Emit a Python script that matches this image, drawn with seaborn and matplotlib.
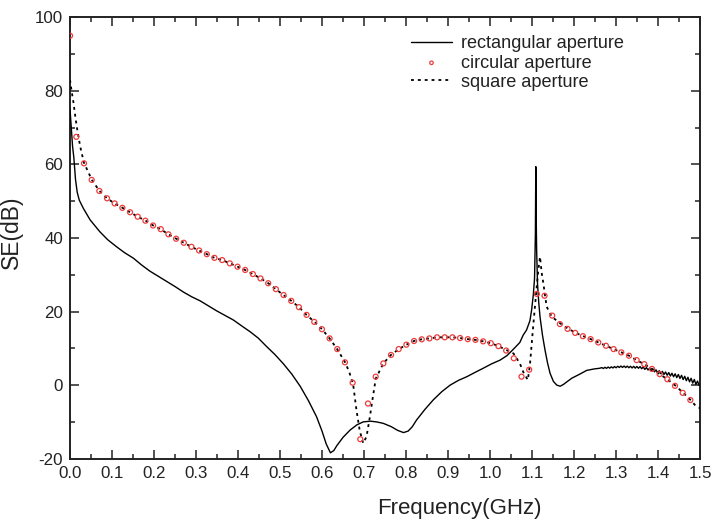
import numpy as np
import pandas as pd
import matplotlib
matplotlib.use("Agg")
import matplotlib.pyplot as plt
from matplotlib.ticker import MultipleLocator
import seaborn as sns

# Shielding effectiveness of an enclosure with different aperture shapes
rect_freq = [
    0.000, 0.003, 0.006, 0.009, 0.013, 0.017, 0.022, 0.032, 0.048, 0.071,
    0.090, 0.111, 0.130, 0.151, 0.170, 0.190, 0.210, 0.230, 0.250, 0.270,
    0.290, 0.310, 0.330, 0.349, 0.370, 0.389, 0.410, 0.429, 0.448, 0.468,
    0.488, 0.508, 0.528, 0.548, 0.568, 0.587, 0.600, 0.610, 0.620, 0.628,
    0.635, 0.650, 0.667, 0.683, 0.698, 0.715, 0.730, 0.746, 0.765, 0.780,
    0.794, 0.805, 0.815, 0.825, 0.845, 0.865, 0.885, 0.905, 0.925, 0.945,
    0.965, 0.984, 1.004, 1.024, 1.040, 1.056, 1.071, 1.079, 1.087, 1.095,
    1.099, 1.103, 1.106, 1.108, 1.109, 1.110, 1.111, 1.113, 1.116, 1.119,
    1.125, 1.131, 1.137, 1.143, 1.151, 1.159, 1.167, 1.175, 1.183, 1.195,
    1.214, 1.230, 1.248, 1.262,
    1.2660, 1.2698, 1.2736, 1.2774, 1.2812, 1.2850, 1.2888, 1.2926, 1.2964, 1.3002,
    1.3040, 1.3078, 1.3116, 1.3154, 1.3192, 1.3230, 1.3268, 1.3306, 1.3344, 1.3382,
    1.3420, 1.3458, 1.3496, 1.3534, 1.3572, 1.3610, 1.3648, 1.3686, 1.3724, 1.3762,
    1.3800, 1.3838, 1.3876, 1.3914, 1.3952, 1.3990, 1.4028, 1.4066, 1.4104, 1.4142,
    1.4180, 1.4218, 1.4256, 1.4294, 1.4332, 1.4370, 1.4408, 1.4446, 1.4484, 1.4522,
    1.4560, 1.4598, 1.4636, 1.4674, 1.4712, 1.4750, 1.4788, 1.4826, 1.4864, 1.4902,
    1.4940, 1.4978,
]
rect_se = [
    75.0, 70.0, 65.0, 62.0, 56.0, 52.5, 50.3, 48.0, 44.9, 41.7,
    39.5, 37.6, 36.0, 34.5, 32.7, 31.0, 29.6, 28.2, 26.8, 25.3,
    24.0, 22.9, 21.5, 20.2, 18.9, 17.7, 16.0, 14.5, 12.8, 10.5,
    8.3, 5.8, 3.0, -0.3, -4.3, -8.6, -12.5, -16.0, -18.4, -17.8,
    -16.5, -14.2, -12.2, -10.8, -10.0, -9.8, -10.0, -10.4, -11.3, -12.3,
    -12.9, -12.5, -11.3, -9.5, -6.6, -4.0, -1.8, 0.0, 1.3, 2.3,
    3.5, 4.6, 5.8, 6.8, 8.0, 9.8, 11.6, 13.6, 15.0, 17.5,
    20.4, 24.5, 29.0, 41.0, 59.4, 45.0, 36.7, 27.7, 22.5, 18.6,
    13.5, 9.5, 6.0, 3.2, 1.0, 0.0, -0.3, 0.2, 0.9, 1.9,
    3.0, 4.0, 4.4, 4.6,
    4.78, 4.51, 4.85, 4.56, 4.92, 4.61, 4.98, 4.66, 5.05, 4.72,
    5.13, 4.80, 5.19, 4.81, 5.19, 4.78, 5.17, 4.73, 5.13, 4.67,
    5.10, 4.62, 5.08, 4.58, 5.05, 4.46, 4.91, 4.28, 4.76, 4.11,
    4.62, 3.89, 4.39, 3.62, 4.16, 3.35, 3.93, 3.10, 3.75, 2.89,
    3.58, 2.68, 3.41, 2.46, 3.24, 2.26, 3.07, 2.04, 2.89, 1.81,
    2.66, 1.51, 2.40, 1.20, 2.13, 0.90, 1.86, 0.56, 1.54, 0.20,
    1.10, -0.07,
]

circ_freq = [0.0] + list(np.linspace(0.015, 1.477, 81))
circ_se = [
    95.0,
    67.5, 60.3, 55.8, 52.8, 50.8, 49.4, 48.2, 47.0, 45.8, 44.7,
    43.4, 42.4, 41.0, 39.8, 38.7, 37.6, 36.6, 35.6, 34.6, 34.0,
    33.1, 32.2, 31.3, 30.2, 29.0, 27.7, 26.1, 24.5, 22.9, 21.2,
    19.1, 17.2, 15.2, 12.7, 9.8, 6.2, 0.65, -14.7, -5.0, 2.3,
    5.9, 8.2, 9.8, 11.0, 12.0, 12.45, 12.7, 13.0, 13.0, 13.0,
    12.8, 12.5, 12.3, 11.9, 11.4, 10.6, 9.4, 7.3, 2.3, 4.2,
    24.8, 24.3, 18.9, 16.6, 15.3, 14.2, 13.3, 12.5, 11.6, 10.7,
    9.8, 8.9, 8.0, 6.8, 5.7, 4.4, 3.0, 1.6, -0.2, -2.1,
    -4.05,
]

sq_freq = [
    0.000, 0.004, 0.008, 0.012, 0.016, 0.024, 0.033, 0.052, 0.070, 0.088,
    0.106, 0.125, 0.143, 0.161, 0.180, 0.198, 0.216, 0.234, 0.253, 0.271,
    0.289, 0.307, 0.326, 0.344, 0.362, 0.381, 0.399, 0.417, 0.435, 0.454,
    0.472, 0.490, 0.508, 0.527, 0.545, 0.563, 0.582, 0.600, 0.618, 0.636,
    0.655, 0.665, 0.674, 0.682, 0.690, 0.698, 0.706, 0.714, 0.720, 0.728,
    0.746, 0.764, 0.783, 0.801, 0.819, 0.837, 0.856, 0.874, 0.892, 0.911,
    0.929, 0.947, 0.965, 0.984, 1.002, 1.020, 1.038, 1.056, 1.071, 1.079,
    1.090, 1.095, 1.103, 1.111, 1.115, 1.119, 1.123, 1.127, 1.131, 1.135,
    1.147, 1.167, 1.185, 1.204, 1.222, 1.240, 1.258, 1.276, 1.294, 1.313,
    1.331, 1.349, 1.367, 1.386, 1.404, 1.422, 1.441, 1.459, 1.477, 1.488,
    1.500,
]
sq_se = [
    83.0, 79.8, 77.0, 73.5, 70.3, 65.0, 60.5, 55.8, 52.8, 50.8,
    49.4, 48.2, 47.0, 45.8, 44.7, 43.4, 42.4, 41.0, 39.8, 38.7,
    37.6, 36.6, 35.6, 34.6, 34.0, 33.1, 32.2, 31.3, 30.2, 29.0,
    27.7, 26.1, 24.5, 22.9, 21.2, 19.1, 17.2, 15.2, 12.7, 9.8,
    6.2, 3.5, 0.3, -6.8, -12.5, -15.8, -14.0, -8.6, -4.0, 1.8,
    5.9, 8.2, 9.8, 11.0, 12.0, 12.45, 12.7, 13.0, 13.0, 13.0,
    12.8, 12.5, 12.3, 11.9, 11.4, 10.6, 9.6, 8.6, 5.9, 3.6,
    1.4, 5.5, 16.3, 26.5, 31.3, 34.9, 30.5, 27.7, 24.3, 21.3,
    18.6, 16.8, 15.4, 14.2, 13.3, 12.5, 11.6, 10.7, 9.8, 8.9,
    8.0, 6.8, 5.7, 4.4, 3.0, 1.6, -0.1, -2.0, -4.0, -5.4,
    -6.3,
]

x_ticks = [0.0, 0.1, 0.2, 0.3, 0.4, 0.5, 0.6, 0.7, 0.8, 0.9, 1.0, 1.1, 1.2, 1.3, 1.4, 1.5]
y_ticks = [-20, 0, 20, 40, 60, 80, 100]

rect_df = pd.DataFrame({"freq": rect_freq, "se": rect_se})
circ_df = pd.DataFrame({"freq": circ_freq, "se": circ_se})
sq_df = pd.DataFrame({"freq": sq_freq, "se": sq_se})

sns.set_style("ticks")
plt.rcParams["font.family"] = ["Liberation Sans", "DejaVu Sans"]

fig = plt.figure(figsize=(7.13, 5.21), dpi=100)
ax = fig.add_axes([0.0982, 0.1196, 0.8836, 0.8472])

sns.lineplot(data=rect_df, x="freq", y="se", ax=ax, color="black", lw=1.0,
             estimator=None, sort=False, label="rectangular aperture", zorder=3)
sns.scatterplot(data=circ_df, x="freq", y="se", ax=ax, marker="o", s=13,
                facecolors="none", edgecolors="#ee3b3b", linewidths=0.9,
                label="circular aperture", zorder=5, clip_on=True)
sns.lineplot(data=sq_df, x="freq", y="se", ax=ax, color="black", lw=1.3,
             estimator=None, sort=False, label="square aperture", zorder=4,
             linestyle=(0, (1.6, 2.2)))

ax.set_xlim(0.0, 1.5)
ax.set_ylim(-20, 100)
ax.set_xticks(x_ticks)
ax.set_xticklabels([f"{t:.1f}" for t in x_ticks])
ax.set_yticks(y_ticks)
ax.set_yticklabels([str(t) for t in y_ticks])
ax.xaxis.set_minor_locator(MultipleLocator(0.05))
ax.yaxis.set_minor_locator(MultipleLocator(10))
ax.tick_params(which="both", direction="in", top=True, right=True,
               width=1.1, colors="#222222", labelcolor="#222222")
ax.tick_params(which="major", length=6.8, labelsize=12.2, pad=5)
ax.tick_params(which="minor", length=3.6)
for side in ax.spines.values():
    side.set_linewidth(1.4)
    side.set_color("#222222")

ax.set_xlabel("Frequency(GHz)", fontsize=16, color="#222222")
ax.set_ylabel("SE(dB)", fontsize=16.5, color="#222222")
ax.xaxis.set_label_coords(0.618, -0.088)
ax.yaxis.set_label_coords(-0.075, 0.512)

leg = ax.legend(loc="upper left", bbox_to_anchor=(0.542, 0.959), frameon=False,
                fontsize=13.1, handlelength=2.2, handletextpad=0.5,
                labelspacing=0.12, borderpad=0, borderaxespad=0, markerscale=0.7)
for txt in leg.get_texts():
    txt.set_color("#222222")

fig.savefig("out.png", dpi=100)
